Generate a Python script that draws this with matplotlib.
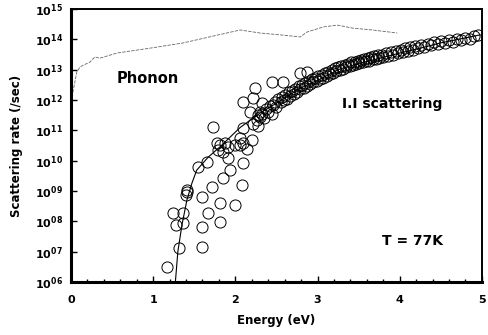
import numpy as np
import matplotlib
matplotlib.use("Agg")
import matplotlib.pyplot as plt
from matplotlib.ticker import MultipleLocator, FixedLocator, NullLocator

# phonon scattering rate (log10 of rate)
phonon_E = [0.01, 0.04, 0.07, 0.11, 0.15, 0.23, 0.29, 0.35, 0.56, 0.96, 1.36,
            1.78, 2.06, 2.30, 2.58, 2.79, 2.87, 3.07, 3.24, 3.43, 3.67, 3.97]
phonon_log = [12.10, 12.49, 12.92, 13.09, 13.15, 13.25, 13.42, 13.38, 13.55, 13.71, 13.88,
              14.14, 14.31, 14.21, 14.14, 14.08, 14.24, 14.41, 14.47, 14.37, 14.31, 14.21]

# impact ionization fit curve
fit_E = [1.27, 1.30, 1.35, 1.41, 1.47, 1.53, 1.67, 1.81, 2.06, 2.30, 2.54,
         2.79, 3.03, 3.27, 3.52, 3.76, 4.00, 4.25, 4.49, 4.73, 4.98]
fit_log = [6.0, 7.0, 7.88, 8.7, 9.25, 9.69, 10.12, 10.45, 11.1, 11.57, 11.96,
           12.39, 12.69, 13.02, 13.22, 13.38, 13.55, 13.71, 13.88, 14.01, 14.15]

# impact ionization computed rates (circles)
ii_E = [1.17, 1.32, 1.24, 1.36, 1.28, 1.36, 1.41, 1.40, 1.41, 1.59, 1.59, 1.59,
        1.67, 1.72, 1.81, 1.81, 1.85, 2.00, 2.08, 1.93, 1.55, 1.65, 1.73,
        1.78, 1.81, 1.87, 1.79, 1.85, 1.91, 1.91, 2.00, 2.06, 2.09, 2.14, 2.06,
        2.09, 2.20, 2.09, 2.27,
        2.45, 2.58, 2.24, 2.21, 2.32, 2.09, 2.18, 2.79, 2.87, 2.30,
        2.22, 2.26, 2.28, 2.30, 2.33, 2.35, 2.37, 2.40, 2.42, 2.44, 2.46, 2.48,
        2.50, 2.52, 2.55, 2.57, 2.59, 2.61, 2.63, 2.65, 2.67, 2.69, 2.71, 2.73,
        2.75, 2.77, 2.79, 2.81, 2.83, 2.85, 2.87, 2.89, 2.91, 2.93, 2.95, 2.97,
        2.99, 3.01, 3.03, 3.05, 3.07, 3.09, 3.11, 3.13, 3.15, 3.17, 3.19, 3.21,
        3.23, 3.25, 3.27, 3.29, 3.31, 3.33, 3.35, 3.37, 3.39, 3.41, 3.43, 3.45,
        3.47, 3.49, 3.51, 3.53, 3.55, 3.57, 3.59, 3.61, 3.63, 3.65, 3.67, 3.69,
        3.71, 3.73, 3.75, 3.78, 3.80, 3.83, 3.86, 3.89, 3.92, 3.95, 3.98, 4.01,
        4.04, 4.07, 4.10, 4.13, 4.16, 4.19, 4.22, 4.26, 4.30, 4.34, 4.38, 4.42,
        4.46, 4.50, 4.55, 4.60, 4.65, 4.70, 4.75, 4.80, 4.85, 4.90, 4.95]
ii_log = [6.49, 7.11, 8.27, 8.27, 7.87, 7.94, 8.96, 8.86, 9.05, 8.80, 7.81, 7.15,
          8.27, 9.13, 8.60, 7.97, 9.42, 8.53, 9.19, 9.69, 9.79, 9.95, 11.11,
          10.58, 10.51, 10.58, 10.35, 10.28, 10.08, 10.45, 10.51, 10.51, 10.58, 10.38, 10.74,
          9.92, 10.68, 11.07, 11.50,
          12.59, 12.59, 12.39, 12.06, 11.90, 11.93, 11.60, 12.89, 12.92, 11.62,
          11.20, 11.35, 11.15, 11.45, 11.55, 11.40, 11.70, 11.62, 11.80, 11.55, 11.85, 11.95,
          11.78, 12.02, 11.92, 12.10, 12.00, 12.18, 12.05, 12.25, 12.12, 12.30, 12.20, 12.38,
          12.28, 12.45, 12.35, 12.50, 12.40, 12.55, 12.47, 12.62, 12.52, 12.68, 12.58, 12.72,
          12.62, 12.78, 12.68, 12.82, 12.74, 12.88, 12.80, 12.93, 12.85, 12.98, 12.90, 13.05,
          12.95, 13.08, 13.00, 13.12, 13.04, 13.16, 13.08, 13.20, 13.12, 13.24, 13.15, 13.27,
          13.18, 13.30, 13.22, 13.33, 13.25, 13.36, 13.28, 13.39, 13.30, 13.42, 13.34, 13.45,
          13.36, 13.47, 13.40, 13.50, 13.42, 13.54, 13.46, 13.58, 13.50, 13.62, 13.55, 13.66,
          13.58, 13.70, 13.62, 13.74, 13.66, 13.78, 13.70, 13.82, 13.75, 13.86, 13.80, 13.90,
          13.84, 13.95, 13.88, 13.98, 13.92, 14.02, 13.97, 14.06, 14.02, 14.10, 14.15]

y_ticks = [6, 7, 8, 9, 10, 11, 12, 13, 14, 15]
y_tick_labels = ['06', '07', '08', '09', '10', '11', '12', '13', '14', '15']


def main():
    fig = plt.figure(figsize=(4.88, 3.35), dpi=100)
    ax = fig.add_axes([0.1455, 0.158, 0.842, 0.815])

    ax.set_yscale('log')
    ax.plot(phonon_E, 10.0 ** np.array(phonon_log), color='#666666', lw=0.6,
            ls=(0, (4, 1.5)))
    ax.plot(fit_E, 10.0 ** np.array(fit_log), color='black', lw=0.8)
    ax.plot(ii_E, 10.0 ** np.array(ii_log), ls='none', marker='o', ms=8,
            mfc='none', mec='black', mew=0.7)

    ax.set_xlim(0, 5)
    ax.set_ylim(1e6, 1e15)

    ax.xaxis.set_major_locator(MultipleLocator(1))
    ax.xaxis.set_minor_locator(MultipleLocator(0.2))
    ax.yaxis.set_major_locator(FixedLocator([10.0 ** v for v in y_ticks]))
    ax.yaxis.set_minor_locator(NullLocator())
    ax.set_yticklabels([r'$\mathbf{10^{%s}}$' % s for s in y_tick_labels])
    for lab in ax.get_xticklabels():
        lab.set_fontweight('bold')

    ax.tick_params(which='both', direction='in', labelsize=8, width=1)
    ax.tick_params(which='major', length=4)
    ax.tick_params(which='minor', length=2)
    ax.tick_params(axis='x', pad=9)
    ax.tick_params(axis='y', pad=6)

    for side in ['left', 'bottom']:
        ax.spines[side].set_linewidth(2.2)
    for side in ['top', 'right']:
        ax.spines[side].set_linewidth(1.4)

    ax.text(0.93, 10 ** 12.72, 'Phonon', fontsize=10.5, fontweight='bold',
            ha='center', va='center')
    ax.text(3.91, 10 ** 11.86, 'I.I scattering', fontsize=10, fontweight='bold',
            ha='center', va='center')
    ax.text(4.15, 10 ** 7.34, 'T = 77K', fontsize=10, fontweight='bold',
            ha='center', va='center')

    ax.set_xlabel('Energy (eV)', fontsize=8.5, fontweight='bold', labelpad=7)
    ax.set_ylabel('Scattering rate (/sec)', fontsize=8.5, fontweight='bold', labelpad=8)

    fig.savefig('out.png', dpi=100)


if __name__ == "__main__":
    main()
